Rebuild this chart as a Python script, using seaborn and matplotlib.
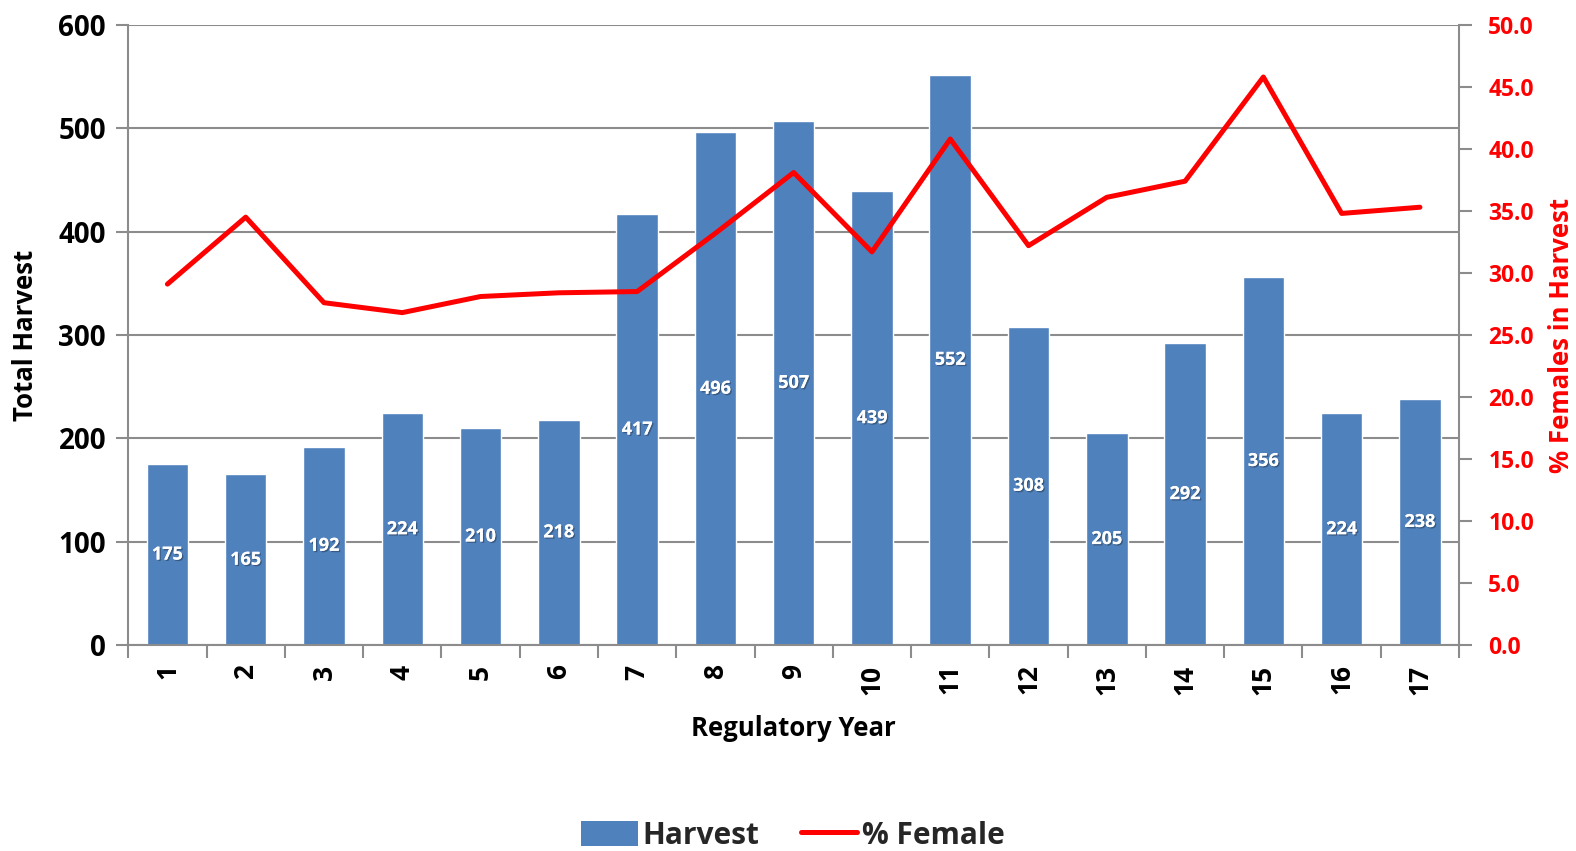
import matplotlib
matplotlib.use("Agg")
import matplotlib.pyplot as plt
import matplotlib.patheffects as pe
from matplotlib.lines import Line2D
from matplotlib.patches import Patch
import numpy as np
import pandas as pd
import seaborn as sns

# Harvest totals and share of females by regulatory year
years = [str(i) for i in range(1, 18)]
harvest = [175, 165, 192, 224, 210, 218, 417, 496, 507, 439, 552, 308, 205, 292, 356, 224, 238]
pct_female = [29.1, 34.5, 27.6, 26.8, 28.1, 28.4, 28.5, 33.2, 38.1, 31.7, 40.8, 32.2, 36.1, 37.4, 45.8, 34.8, 35.3]

sns.set_theme(style="white")
plt.rcParams["font.family"] = ["Open Sans", "DejaVu Sans"]
plt.rcParams["font.weight"] = "bold"

bar_color = "#4F81BD"
line_color = "#FF0000"
grid_color = "#8C8C8C"

df = pd.DataFrame({"year": years, "harvest": harvest, "pct": pct_female})
df["pos"] = np.arange(len(years))

fig = plt.figure(figsize=(15.76, 8.51), dpi=100)
ax = fig.add_axes([0.0814, 0.2421, 0.8444, 0.7286])

sns.barplot(data=df, x="year", y="harvest", color=bar_color, saturation=1,
            width=0.53, ax=ax, zorder=2)

ax.set_ylim(0, 600)
ax.set_yticks(np.arange(0, 601, 100))
ax.set_xlim(-0.5, len(years) - 0.5)
ax.yaxis.grid(True, color=grid_color, linewidth=1.5, zorder=0)
ax.set_axisbelow(True)

# Value labels centred in each bar
labels = ax.bar_label(ax.containers[0], label_type="center", color="white",
                      fontsize=13, fontweight="bold")
for t in labels:
    t.set_path_effects([pe.withSimplePatchShadow(offset=(1, -1), shadow_rgbFace="#2a3f5a", alpha=0.6),
                        pe.Normal()])

# Category tick marks sit between bars
ax.set_xticks(np.arange(len(years)))
ax.set_xticklabels(years, rotation=90, fontsize=19, fontweight="bold", color="black")
ax.set_xticks(np.arange(-0.5, len(years)), minor=True)
ax.tick_params(axis="x", which="major", length=0, pad=14)
ax.tick_params(axis="x", which="minor", length=9, width=1.5, color=grid_color, direction="out", bottom=True)
ax.tick_params(axis="y", which="major", length=9, width=1.5, color=grid_color, direction="out",
               labelsize=20, labelcolor="black", pad=7, left=True)
for lbl in ax.get_yticklabels():
    lbl.set_fontweight("bold")

for side in ["top", "right"]:
    ax.spines[side].set_visible(False)
for side in ["left", "bottom"]:
    ax.spines[side].set_color(grid_color)
    ax.spines[side].set_linewidth(1.5)

ax.set_xlabel("Regulatory Year", fontsize=18.5, fontweight="bold", color="black", labelpad=15)
ax.set_ylabel("Total Harvest", fontsize=18.5, fontweight="bold", color="black", labelpad=14)

# Female share on a secondary axis
ax2 = ax.twinx()
sns.lineplot(data=df, x="pos", y="pct", color=line_color, linewidth=3.6, ax=ax2, zorder=3)
ax2.set_ylim(0, 50)
ax2.set_yticks(np.arange(0, 50.1, 5))
ax2.set_yticklabels([f"{v:.1f}" for v in np.arange(0, 50.1, 5)])
ax2.tick_params(axis="y", length=9, width=1.5, color=grid_color, direction="out",
                labelsize=16.5, labelcolor=line_color, pad=12, right=True)
for lbl in ax2.get_yticklabels():
    lbl.set_fontweight("bold")
ax2.set_ylabel("% Females in Harvest", fontsize=18.5, fontweight="bold", color=line_color, labelpad=10)
ax2.grid(False)
for side in ["top", "left", "bottom"]:
    ax2.spines[side].set_visible(False)
ax2.spines["right"].set_color(grid_color)
ax2.spines["right"].set_linewidth(1.5)
ax2.set_xlim(-0.5, len(years) - 0.5)

handles = [Patch(facecolor=bar_color, edgecolor="none", label="Harvest"),
           Line2D([0], [0], color=line_color, linewidth=3.6, label="% Female")]
fig.legend(handles=handles, loc="center", bbox_to_anchor=(0.503, 0.018), ncol=2, frameon=False,
           prop={"size": 21.5, "weight": "bold"}, handlelength=1.9, handleheight=0.9,
           handletextpad=0.15, columnspacing=1.4)

fig.savefig("out.png", dpi=100)
